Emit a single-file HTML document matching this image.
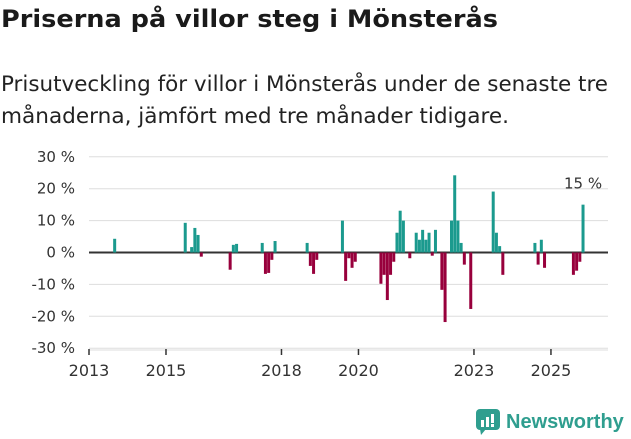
<!DOCTYPE html>
<html><head><meta charset="utf-8">
<style>
html,body{margin:0;padding:0;background:#fff;width:631px;height:439px;overflow:hidden;font-family:"DejaVu Sans",sans-serif;color:#1a1a1a}
.fit{position:absolute;left:1px;white-space:nowrap;transform-origin:0 0;margin:0}
#title{top:5px;font-size:24px;font-weight:bold}
#sub1{top:72px;font-size:21px;color:#222}
#sub2{top:104px;font-size:21px;color:#222}
svg{position:absolute;left:0;top:0}
</style></head><body>
<h1 id="title" class="fit" data-target="497">Priserna på villor steg i Mönsterås</h1>
<div id="sub1" class="fit" data-target="607">Prisutveckling för villor i Mönsterås under de senaste tre</div>
<div id="sub2" class="fit" data-target="508">månaderna, jämfört med tre månader tidigare.</div>
<svg id="chart" width="631" height="439"></svg>
<script>
document.querySelectorAll('.fit').forEach(el=>{
  const w=el.getBoundingClientRect().width;
  const t=+el.getAttribute('data-target');
  el.style.transform='scaleX('+(t/w)+')';
});
const dates = ["2013-09","2015-07","2015-09","2015-10","2015-11","2015-12","2016-09","2016-10","2016-11","2017-07","2017-08","2017-09","2017-10","2017-11","2018-09","2018-10","2018-11","2018-12","2019-08","2019-09","2019-10","2019-11","2019-12","2020-08","2020-09","2020-10","2020-11","2020-12","2021-01","2021-02","2021-03","2021-05","2021-07","2021-08","2021-09","2021-10","2021-11","2021-12","2022-01","2022-03","2022-04","2022-06","2022-07","2022-08","2022-09","2022-10","2022-12","2023-07","2023-08","2023-09","2023-10","2024-08","2024-09","2024-10","2024-11","2025-08","2025-09","2025-10","2025-11"];
const values = [4.3,9.3,1.7,7.7,5.5,-1.3,-5.4,2.4,2.7,3,-6.7,-6.4,-2.3,3.6,3,-4.2,-6.7,-2.3,10,-8.9,-1.8,-4.8,-2.9,-9.8,-7,-14.9,-7,-2.9,6.2,13.1,10,-1.8,6.2,4,7.1,4,6.2,-1,7.1,-11.7,-21.8,10,24.2,10,3,-3.8,-17.7,19.1,6.2,2,-7,3,-3.8,4,-4.8,-7,-5.7,-2.9,15];
const yTicks = [30,20,10,0,-10,-20,-30];
const xTickYears = [2013,2015,2018,2020,2023,2025];
const lastLabel = "15 %";

const NS="http://www.w3.org/2000/svg";
const svg=document.getElementById('chart');
const X0=89, PXM=3.208, Y0=252.5, PXU=3.19;
function xMonths(m){return X0+m*PXM;}
function xDate(s){const [y,mo]=s.split('-').map(Number);return xMonths((y-2013)*12+(mo-1));}
function yVal(v){return Y0-v*PXU;}
function mk(tag,attrs){const e=document.createElementNS(NS,tag);for(const k in attrs)e.setAttribute(k,attrs[k]);svg.appendChild(e);return e;}

yTicks.forEach(t=>{
  const g=mk('line',{x1:89,x2:608,y1:yVal(t),y2:yVal(t),stroke:t===0?'#333':'#ddd','stroke-width':t===0?2:1});
  
  
  const lb=mk('text',{x:75,y:yVal(t)+5,'text-anchor':'end','font-size':15,fill:'#333','font-family':'DejaVu Sans, sans-serif'});
  lb.textContent=t+' %';
  
  
});
const axis=mk('line',{x1:89,x2:608,y1:350,y2:350,stroke:'#ddd','stroke-width':1});


xTickYears.forEach(y=>{
  const x=xMonths((y-2013)*12);
  const tk=mk('line',{x1:x,x2:x,y1:349,y2:355,stroke:'#333','stroke-width':1.5});
  
  
  const lb=mk('text',{x:x,y:376,'text-anchor':'middle','font-size':16,fill:'#333','font-family':'DejaVu Sans, sans-serif'});
  lb.textContent=y;
  
  
});
dates.forEach((d,i)=>{
  const v=values[i], x=xDate(d);
  const y=Math.min(yVal(v),Y0), h=Math.abs(yVal(v)-Y0);
  const r=mk('rect',{x:x-1.5,y:y,width:3,height:h,fill:v>=0?'#1b9a8e':'#98003c'});
  
  
});
const li=values.length-1;
const ll=mk('text',{x:xDate(dates[li]),y:yVal(values[li])-16,'text-anchor':'middle','font-size':15,fill:'#333','font-family':'DejaVu Sans, sans-serif'});
ll.textContent=lastLabel;


</script>
<div style="position:absolute;left:476px;top:409px;height:26px;display:flex;align-items:center">
  <svg width="24" height="26" style="position:static"><rect x="0" y="0" width="24" height="21" rx="4" fill="#2f9e8f"/><polygon points="4,20 10,20 5,26" fill="#2f9e8f"/><rect x="5" y="11" width="3" height="7" fill="#fff"/><rect x="10" y="8" width="3" height="10" fill="#fff"/><rect x="15" y="5" width="3" height="9" fill="#fff"/><rect x="15" y="15" width="3" height="3" fill="#fff"/></svg>
  <span style="margin-left:6px;font-size:20px;font-weight:bold;color:#2f9e8f;font-family:'Liberation Sans',sans-serif">Newsworthy</span>
</div>
</body></html>
